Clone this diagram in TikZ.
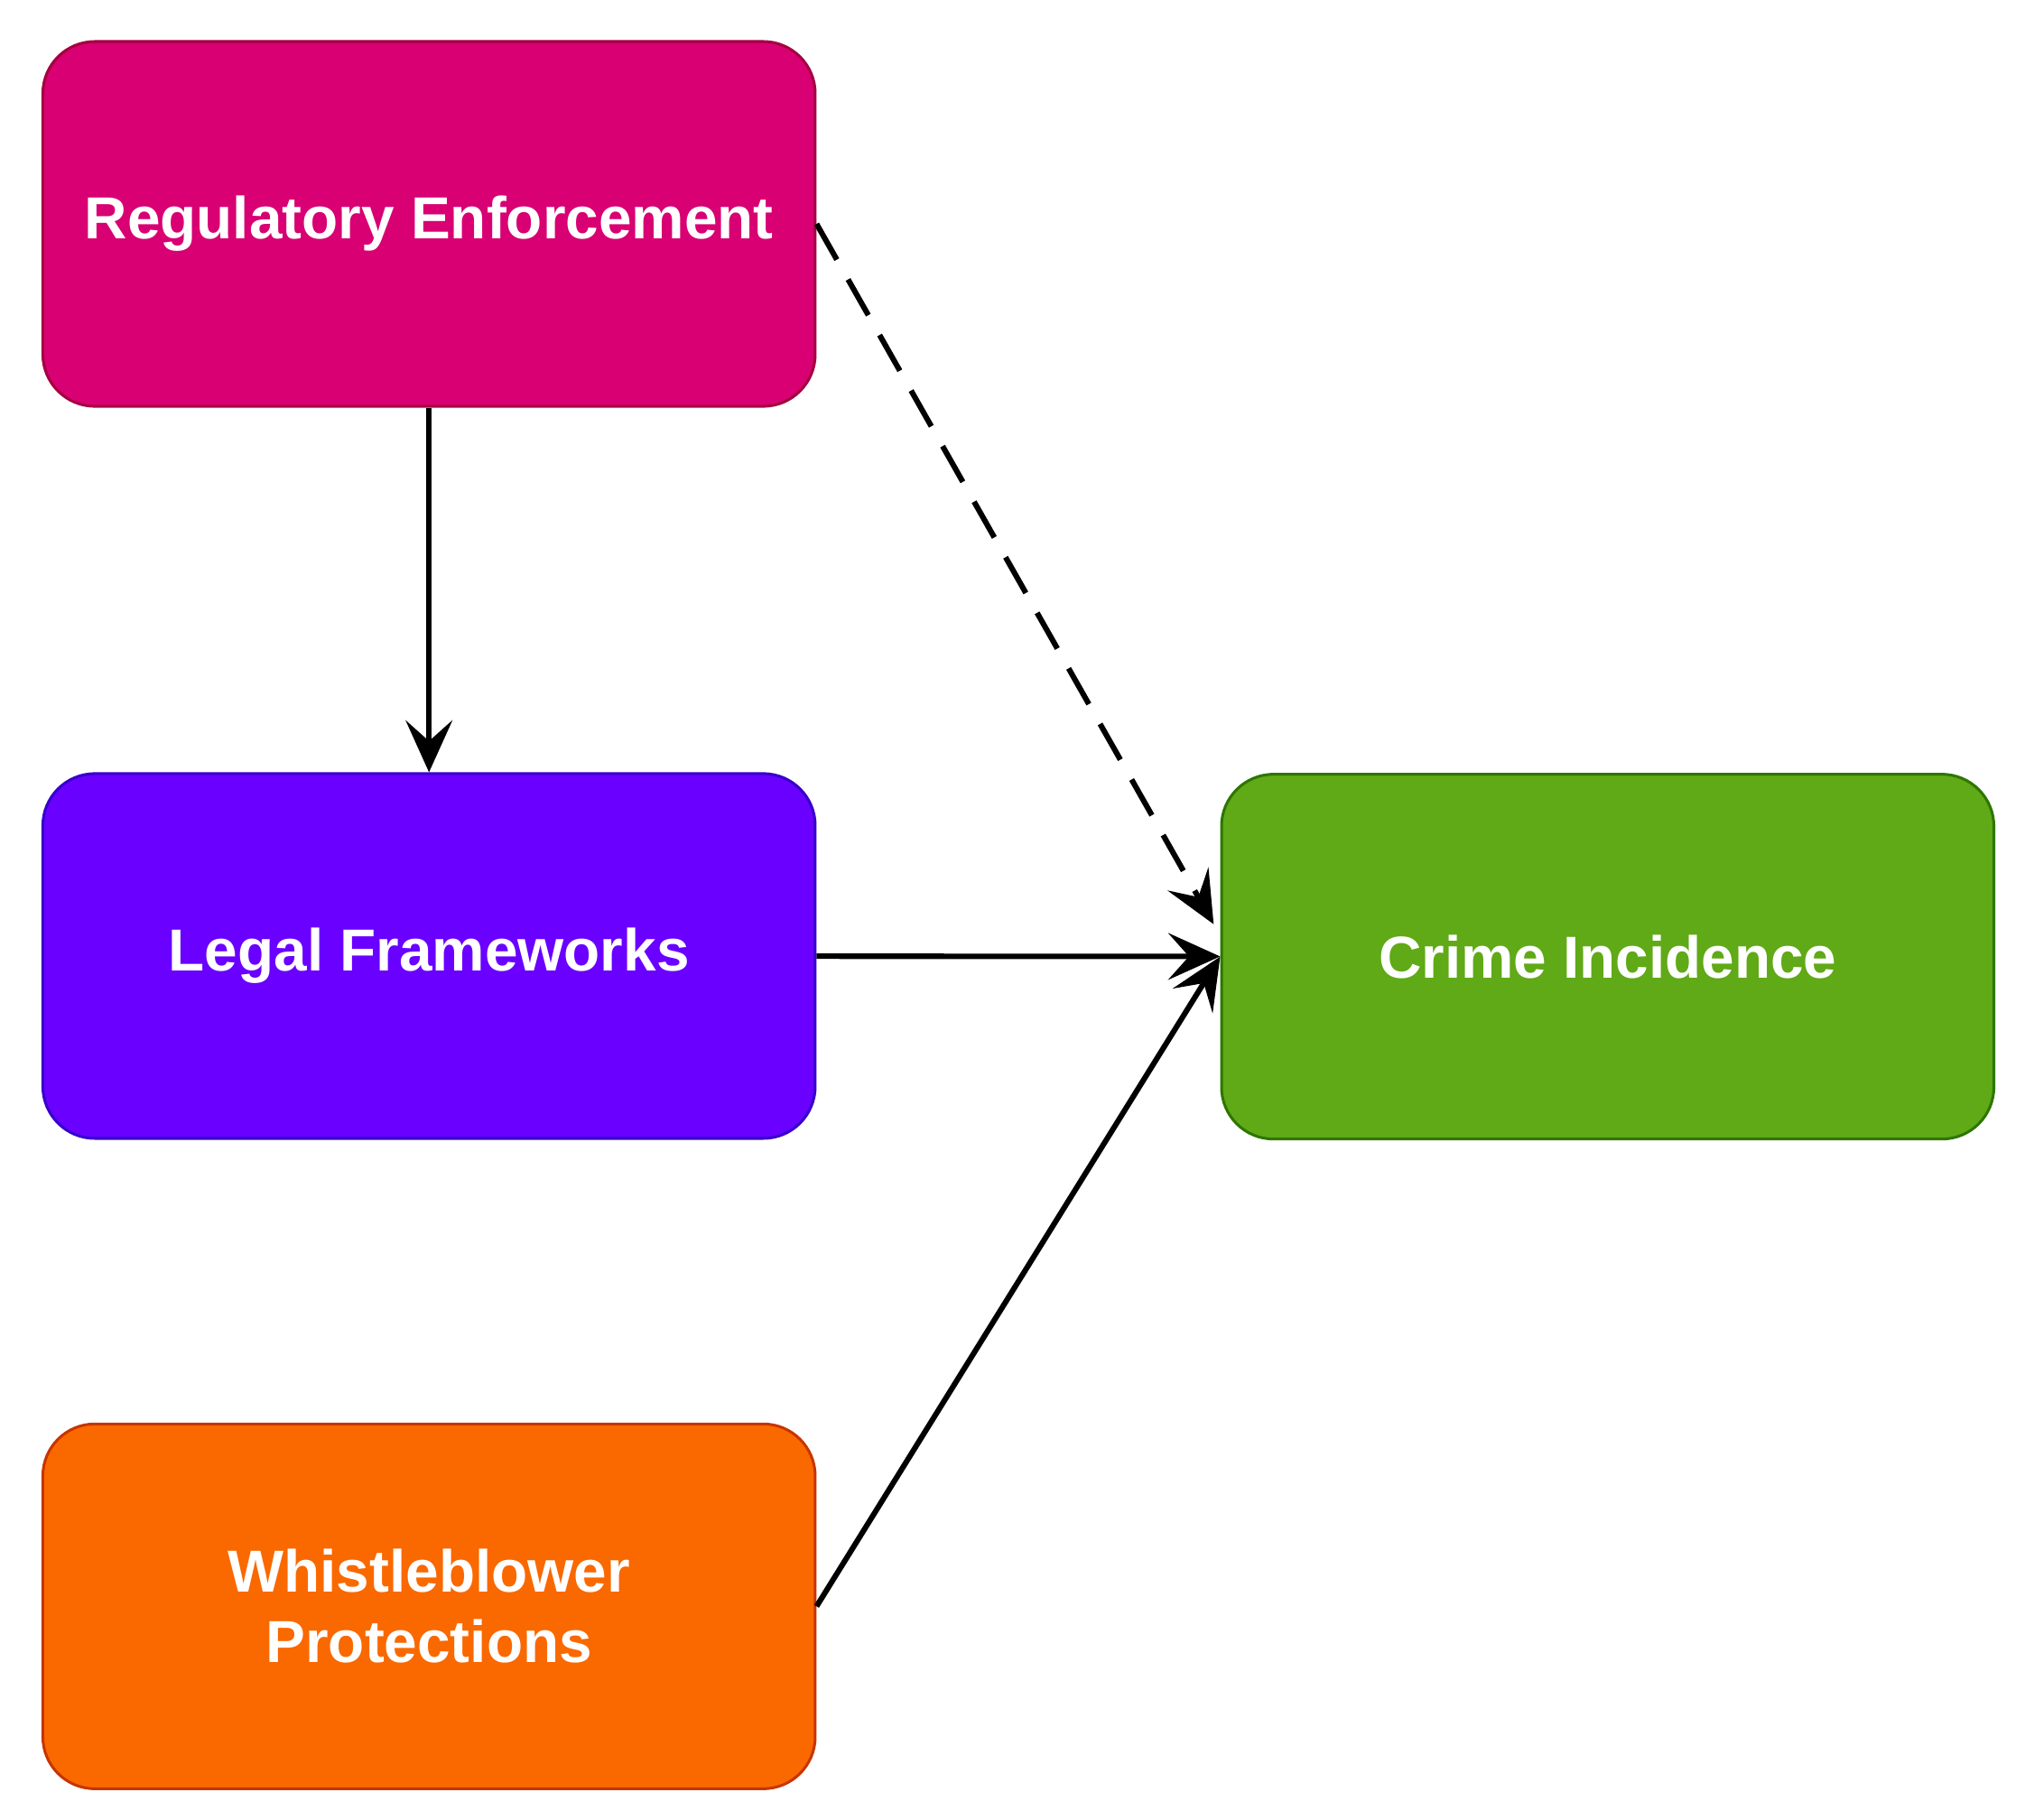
\documentclass[tikz,border=0pt]{standalone}
\usepackage{fontspec}
\setmainfont{Liberation Sans}
\usetikzlibrary{arrows.meta}

\tikzset{
  box/.style={draw, rounded corners=0.4cm, minimum width=5.95cm, minimum height=2.81cm,
    align=center, text=white, font=\fontsize{13}{15.5}\selectfont\bfseries, line width=0.6pt},
  link/.style={-{Stealth[length=4mm,width=3.6mm,inset=1.6mm]}, line width=1.2pt}
}

\begin{document}
\begin{tikzpicture}
  \useasboundingbox (0,0) rectangle (15.6,14.02);
  \node [box, fill={rgb,255:red,216;green,0;blue,115}, draw={rgb,255:red,165;green,0;blue,64}] (reg) at (3.305,12.295) {Regulatory Enforcement};
  \node [box, fill={rgb,255:red,106;green,0;blue,255}, draw={rgb,255:red,55;green,0;blue,204}] (legal) at (3.305,6.655) {Legal Frameworks};
  \node [box, fill={rgb,255:red,250;green,104;blue,0}, draw={rgb,255:red,199;green,53;blue,0}] (whistle) at (3.305,1.645) {Whistleblower\\Protections};
  \node [box, fill={rgb,255:red,96;green,169;blue,23}, draw={rgb,255:red,45;green,118;blue,0}] (crime) at (12.385,6.65) {Crime Incidence};
  \draw [link] (reg) -- (legal);
  \draw [link] (legal) -- (crime);
  \draw [link] (whistle.east) -- (crime.west);
  \draw [link, dash pattern=on 9pt off 5pt] (reg.east) -- ([xshift=-0.05cm,yshift=0.25cm]crime.west);
\end{tikzpicture}
\end{document}
